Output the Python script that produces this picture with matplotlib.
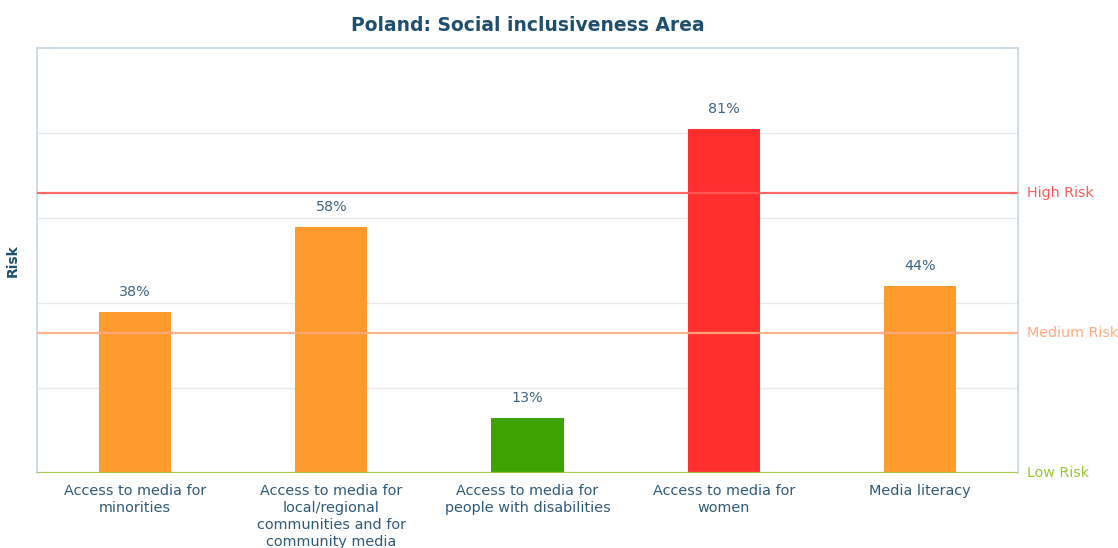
import matplotlib.pyplot as plt
import numpy as np

categories = [
    "Access to media for\nminorities",
    "Access to media for\nlocal/regional\ncommunities and for\ncommunity media",
    "Access to media for\npeople with disabilities",
    "Access to media for\nwomen",
    "Media literacy",
]
values = [38, 58, 13, 81, 44]
bar_colors = ["#ff9a2e", "#ff9a2e", "#3ea300", "#ff2f2f", "#ff9a2e"]

risk_levels = [66, 33, 0]
risk_names = ["High Risk", "Medium Risk", "Low Risk"]
risk_colors = ["#ff5a5a", "#ffab80", "#9cc43a"]

text_color = "#1e4f6e"
label_color = "#2f5a78"

fig = plt.figure(figsize=(11.18, 5.48), dpi=100)
ax = fig.add_axes([37 / 1118, 75 / 548, 981 / 1118, 425 / 548])

x = np.arange(len(categories))
ax.bar(x, values, width=0.367, color=bar_colors, zorder=2)

for xi, v in zip(x, values):
    ax.text(xi, v + 3, f"{v}%", ha="center", va="bottom", fontsize=10.3,
            color="#3d6482")

# horizontal risk thresholds with labels to the right of the frame
for level, name, col in zip(risk_levels, risk_names, risk_colors):
    ax.axhline(level, color=col, lw=1.6, zorder=3, alpha=0.9)
    ax.text(1.009, level / 100, name, transform=ax.transAxes, color=col,
            fontsize=10.3, va="center", ha="left")

ax.set_xlim(-0.5, len(categories) - 0.5)
ax.set_ylim(0, 100)
ax.set_yticks([20, 40, 60, 80])
ax.set_yticklabels([])
ax.tick_params(axis="y", length=0)
ax.tick_params(axis="x", length=0, pad=8)
ax.grid(axis="y", color="#e4ebf0", lw=1, zorder=0)

ax.set_xticks(x)
ax.set_xticklabels(categories, fontsize=10.4, color=label_color,
                   linespacing=1.28)

for side in ["top", "left", "right"]:
    ax.spines[side].set_color("#c9d8e3")
    ax.spines[side].set_linewidth(1.2)
ax.spines["bottom"].set_visible(False)

ax.set_ylabel("Risk", fontsize=10, fontweight="bold", color=text_color)
ax.yaxis.set_label_coords(-17 / 981, 0.5)
ax.set_title("Poland: Social inclusiveness Area", fontsize=13.5,
             fontweight="bold", color=text_color, pad=12)

fig.savefig("out.png", dpi=100)
